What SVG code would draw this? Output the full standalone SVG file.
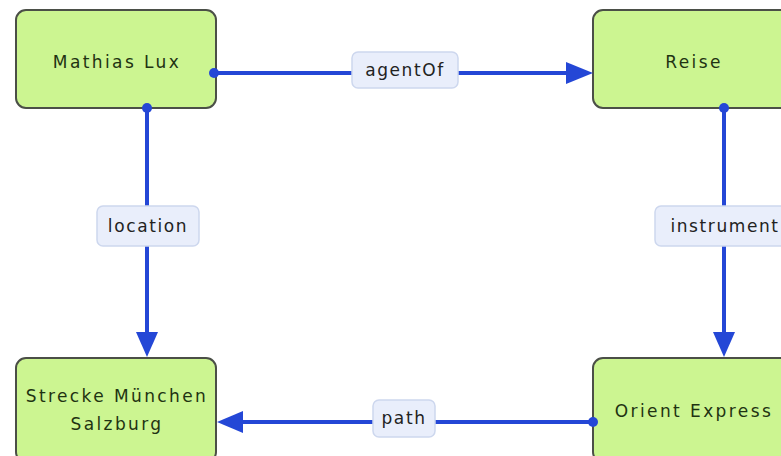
<svg xmlns="http://www.w3.org/2000/svg" width="781" height="456" viewBox="0 0 781 456">
<defs>
<style>
.node rect{fill:#ccf591;stroke:#4b4f47;stroke-width:2}
.node text{font-family:"DejaVu Sans",sans-serif;font-size:17px;letter-spacing:2.4px;fill:#1f3312;text-anchor:middle}
.edge{stroke:#2447d6;stroke-width:4;fill:none}
.dot{fill:#2447d6}
.lbl rect{fill:#e9eefb;stroke:#cdd7ee;stroke-width:1.5}
.lbl text{font-family:"DejaVu Sans",sans-serif;font-size:17px;letter-spacing:1.6px;fill:#222;text-anchor:middle}
</style>
</defs>
<rect width="781" height="456" fill="#ffffff"/>
<g class="node" id="n-mathias"><rect x="16" y="10" width="200" height="98" rx="10"/><text x="117" y="68">Mathias Lux</text></g>
<g class="node" id="n-reise"><rect x="593" y="10" width="200" height="98" rx="10"/><text x="694" y="68">Reise</text></g>
<g class="node" id="n-strecke"><rect x="16" y="358" width="200" height="104" rx="10"/><text x="117" y="402">Strecke München</text><text x="117" y="430">Salzburg</text></g>
<g class="node" id="n-orient"><rect x="593" y="358" width="200" height="104" rx="10"/><text x="694" y="417">Orient Express</text></g>
<g id="connectors">
<g id="e-agentOf">
<line class="edge" x1="213" y1="73" x2="568" y2="73"/>
<path d="M566,62 L593,73 L566,84 z" class="dot"/>
<circle class="dot" cx="214" cy="73" r="5"/>
</g>
<g id="e-location">
<line class="edge" x1="147" y1="108" x2="147" y2="334"/>
<path d="M136,332 L147,357 L158,332 z" class="dot"/>
<circle class="dot" cx="147" cy="108" r="5"/>
</g>
<g id="e-instrument">
<line class="edge" x1="724" y1="108" x2="724" y2="334"/>
<path d="M713,332 L724,357 L735,332 z" class="dot"/>
<circle class="dot" cx="724" cy="108" r="5"/>
</g>
<g id="e-path">
<line class="edge" x1="593" y1="422" x2="241" y2="422"/>
<path d="M243,411 L217,422 L243,433 z" class="dot"/>
<circle class="dot" cx="593" cy="422" r="5"/>
</g>
<g class="lbl" id="l-agentOf"><rect x="352" y="52" width="106" height="36" rx="6"/><text x="405" y="76">agentOf</text></g>
<g class="lbl" id="l-location"><rect x="97" y="206" width="102" height="40" rx="6"/><text x="148" y="232">location</text></g>
<g class="lbl" id="l-instrument"><rect x="655" y="206" width="140" height="40" rx="6"/><text x="725" y="232">instrument</text></g>
<g class="lbl" id="l-path"><rect x="373" y="400" width="62" height="37" rx="6"/><text x="404" y="424">path</text></g>
</g>
</svg>
